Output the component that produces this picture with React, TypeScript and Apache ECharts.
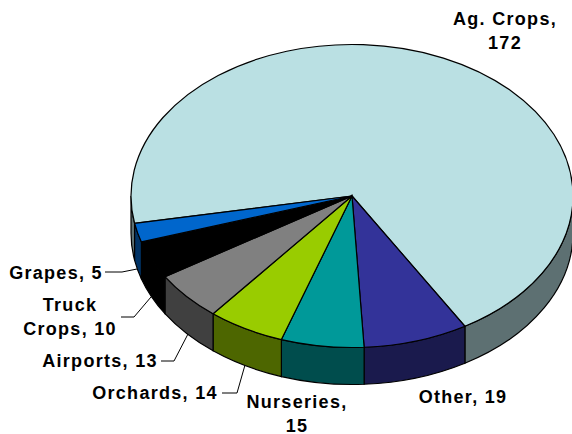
import React, { useEffect, useRef } from "react";
import * as echarts from "echarts";

const categories = ["Ag. Crops", "Other", "Nurseries", "Orchards", "Airports", "Truck Crops", "Grapes"];
const values = [172, 19, 15, 14, 13, 10, 5];
const topColors = ["#BAE0E3", "#333399", "#009999", "#99CC00", "#808080", "#000000", "#0066CC"];
const sideColors = ["#5D7072", "#1A1A4D", "#004D4D", "#4D6600", "#404040", "#000000", "#003366"];
const labelLines = [
  ["Ag. Crops,", "172"],
  ["Other, 19"],
  ["Nurseries,", "15"],
  ["Orchards, 14"],
  ["Airports, 13"],
  ["Truck", "Crops, 10"],
  ["Grapes, 5"],
];

const CX = 352, CY = 196, RX = 221, RY = 151.5, DEPTH = 37, START = 259.6;
const labelCenters = [[505, 30.5], [463, 397], [297, 413.5], [155, 393], [100, 361], [70, 317], [56, 273]];
const leaders = [
  null, null, null,
  [[222, 393], [237, 393], [245, 365]],
  [[161, 361], [174, 361], [188, 334]],
  [[121, 317], [134, 317], [151, 297]],
  [[105, 272], [122, 272], [137, 269]],
];

const total = values.reduce((a, b) => a + b, 0);
const pt = (deg: number, dy = 0) => {
  const r = (deg * Math.PI) / 180;
  return [CX + RX * Math.sin(r), CY - RY * Math.cos(r) + dy];
};
const f = (n: number) => n.toFixed(2);

function renderSlice(params: any, api: any) {
  const i = params.dataIndex;
  const before = values.slice(0, i).reduce((a, b) => a + b, 0);
  const a = START + (before / total) * 360;
  const b = a + (api.value(0) / total) * 360;
  const children: any[] = [];
  const stroke = { stroke: "#000", lineWidth: 1.2 };
  for (const k of [0, 360]) {
    const s = Math.max(a, 90 + k);
    const e = Math.min(b, 270 + k);
    if (e <= s) continue;
    const p0 = pt(s), p1 = pt(e), q1 = pt(e, DEPTH), q0 = pt(s, DEPTH);
    children.push({
      type: "path",
      shape: {
        pathData: `M${f(p0[0])} ${f(p0[1])}A${RX} ${RY} 0 0 1 ${f(p1[0])} ${f(p1[1])}L${f(q1[0])} ${f(q1[1])}A${RX} ${RY} 0 0 0 ${f(q0[0])} ${f(q0[1])}Z`,
      },
      style: { fill: sideColors[i], ...stroke },
    });
  }
  const p0 = pt(a), p1 = pt(b);
  const large = b - a > 180 ? 1 : 0;
  children.push({
    type: "path",
    shape: {
      pathData: `M${CX} ${CY}L${f(p0[0])} ${f(p0[1])}A${RX} ${RY} 0 ${large} 1 ${f(p1[0])} ${f(p1[1])}Z`,
    },
    style: { fill: topColors[i], ...stroke },
  });
  return { type: "group", children };
}

export default function App() {
  const ref = useRef<HTMLDivElement>(null);
  useEffect(() => {
    document.body.style.margin = "0";
    const chart = echarts.init(ref.current!, undefined, { renderer: "svg" });
    const graphic: any[] = [];
    categories.forEach((_, i) => {
      const line = leaders[i];
      if (line) {
        graphic.push({
          type: "polyline",
          shape: { points: line },
          style: { fill: "none", stroke: "#000", lineWidth: 1 },
        });
      }
      graphic.push({
        type: "text",
        x: labelCenters[i][0],
        y: labelCenters[i][1],
        style: {
          text: labelLines[i].join("\n"),
          fill: "#000",
          font: 'bold 18px "Liberation Sans", Arial, sans-serif',
          lineHeight: 24,
          align: "center",
          verticalAlign: "middle",
        },
      });
    });
    chart.setOption({
      animation: false,
      backgroundColor: "#fff",
      graphic,
      series: [
        {
          type: "custom",
          coordinateSystem: "none",
          silent: true,
          clip: false,
          data: values.map((v, i) => ({ name: categories[i], value: [v] })),
          renderItem: renderSlice,
        },
      ],
    });
    return () => chart.dispose();
  }, []);
  return <div ref={ref} style={{ width: 572, height: 434, letterSpacing: "1.3px", overflow: "hidden" }} />;
}
